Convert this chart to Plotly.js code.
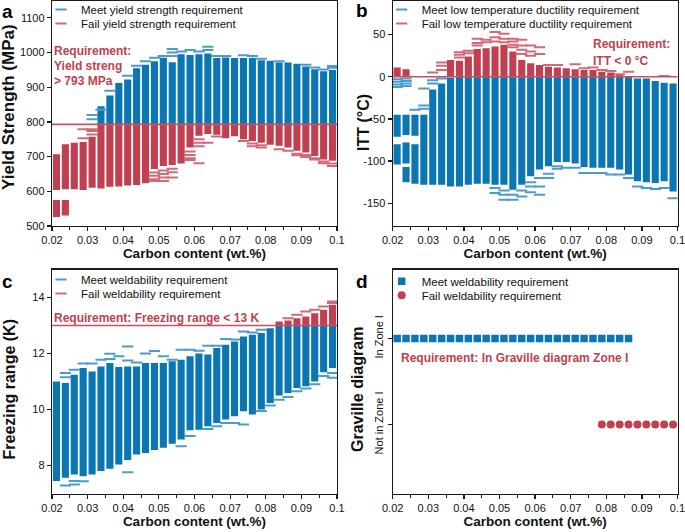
<!DOCTYPE html>
<html><head><meta charset="utf-8">
<script src="https://cdn.plot.ly/plotly-3.0.1.min.js"></script>
<style>html,body{margin:0;padding:0;background:#fff}#chart{width:685px;height:532px}</style>
</head><body><div id="chart"></div>
<script>
// ---------- data ----------
const carbon = [0.02125,0.02375,0.02625,0.02875,0.03125,0.03375,0.03625,0.03875,0.04125,0.04375,0.04625,0.04875,0.05125,0.05375,0.05625,0.05875,0.06125,0.06375,0.06625,0.06875,0.07125,0.07375,0.07625,0.07875,0.08125,0.08375,0.08625,0.08875,0.09125,0.09375,0.09625,0.09875];

// (a) yield strength, MPa
const aReq = 793;
const aMeetLo = [null,null,null,null,null,793,793,793,793,793,793,793,793,793,793,793,793,793,793,793,793,793,793,793,793,793,793,793,793,793,793,793];
const aMeetHi = [null,null,null,null,null,845,876,912,922,955,965,975,985,972,995,993,995,997,984,986,984,984,984,978,976,971,971,968,960,952,946,950];
const aFailLo = [604,606,606,604,610,608,613,614,617,618,623,664,673,676,680,726,760,765,763,753,759,750,745,740,734,731,726,717,712,702,692,688];
const aFailHi = [707,736,740,742,757,793,793,793,793,793,793,793,793,793,793,793,793,793,793,793,793,793,793,793,793,793,793,793,793,793,793,793];
const aFailLo2 = [526,530,null,null,null,null,null,null,null,null,null,null,null,null,null,null,null,null,null,null,null,null,null,null,null,null,null,null,null,null,null,null];
const aFailHi2 = [575,575,null,null,null,null,null,null,null,null,null,null,null,null,null,null,null,null,null,null,null,null,null,null,null,null,null,null,null,null,null,null];
const aMeetDashCol = [4,4,5,6,8,9,10,11,12,13,13,13,14,15,16,17,17,18,19,21,22,23,25,28,29,30,31,31];
const aMeetDashVal = [820,808,835,890,933,962,975,985,990,1010,1000,990,1003,1007,1003,1017,1007,990,990,992,990,982,975,965,957,951,961,956];
const aFailDashCol = [3,3,4,4,4,11,11,11,11,12,12,12,12,13,13,13,15,15,15,15,16,16,16,16,17,18,21,22,22,23,23,25,26,27,27,28,28,29,29,30,30,31,31];
const aFailDashVal = [779,753,779,774,764,654,645,635,630,660,650,640,630,665,655,640,715,705,695,690,750,740,730,681,740,758,745,738,730,733,726,721,717,708,704,705,699,695,692,686,681,680,673];

// (b) ITT, °C
const bReq = 0;
const bMeetLo = [-104,-103,-127,-128,-128,-128,-130,-130,-128,-127,-127,-128,-128,-134,-128,-118,-110,-106,-101,-101,-103,-107,-108,-108,-108,-110,-116,-124,-125,-126,-124,-136];
const bMeetHi = [-80,-78,-80,-45,-15,-8,-1,0,0,0,0,0,0,0,0,0,0,0,0,0,0,0,0,0,0,0,0,-2,-2,-5,-7,-8];
const bMeetLo2 = [-71,-69,-70,null,null,null,null,null,null,null,null,null,null,null,null,null,null,null,null,null,null,null,null,null,null,null,null,null,null,null,null,null];
const bMeetHi2 = [-45,-45,-45,null,null,null,null,null,null,null,null,null,null,null,null,null,null,null,null,null,null,null,null,null,null,null,null,null,null,null,null,null];
const bMeetLo3 = [null,-125,null,null,null,null,null,null,null,null,null,null,null,null,null,null,null,null,null,null,null,null,null,null,null,null,null,null,null,null,null,null];
const bMeetHi3 = [null,-107,null,null,null,null,null,null,null,null,null,null,null,null,null,null,null,null,null,null,null,null,null,null,null,null,null,null,null,null,null,null];
const bFailLo = [0,0,null,null,null,null,0,0,0,0,0,0,0,0,0,0,0,0,0,0,0,0,0,0,0,0,null,null,null,null,null,null];
const bFailHi = [11,9,null,null,null,null,20,19,24,33,34,36,38,30,20,16,14,12,11,10,9,8,8,6,5,2,null,null,null,null,null,null];
const bMeetDashCol = [0,0,0,0,1,1,1,1,2,3,3,3,4,4,5,11,11,12,12,12,13,13,14,14,15,15,15,16,16,16,17,17,18,18,19,20,21,22,23,24,25,26,27,28,29,30,31];
const bMeetDashVal = [-3,-6,-9,-12,-2,-5,-8,-11,-39,-14,-34,-38,-4,-8,-2,-132,-138,-135,-140,-146,-140,-146,-135,-142,-125,-130,-137,-120,-130,-140,-115,-120,-106,-109,-108,-108,-114,-114,-114,-116,-116,-120,-130,-132,-133,-132,-144];
const bFailDashCol = [4,5,5,5,7,7,7,8,8,9,9,9,10,10,11,11,11,12,12,12,13,13,13,13,14,14,14,14,15,15,15,16,16,17,18,20,21,22,23,24,25,26,30];
const bFailDashVal = [5,17,13,8,29,26,23,31,28,45,40,37,44,41,53,47,42,51,45,41,45,42,38,35,44,37,32,27,37,30,25,35,27,14,14,15,10,11,8,7,3,6,1];

// (c) freezing range, K
const cReq = 13;
const cMeetLo = [7.45,7.56,7.68,7.62,7.68,7.80,7.88,8.04,8.20,8.39,8.45,8.55,8.63,8.78,8.93,9.26,9.28,9.40,9.52,9.64,9.76,9.94,9.82,10.00,10.23,10.50,10.59,10.77,10.83,11.00,11.33,11.48];
const cMeetHi = [11.00,10.95,11.24,11.48,11.36,11.54,11.66,11.52,11.54,11.54,11.66,11.66,11.66,11.72,11.78,11.90,12.00,11.96,12.20,12.31,12.43,12.61,12.67,12.73,12.90,13,13,13,13,13,13,13];
const cFailLo = [null,null,null,null,null,null,null,null,null,null,null,null,null,null,null,null,null,null,null,null,null,null,null,null,null,13,13,13,13,13,13,13];
const cFailHi = [null,null,null,null,null,null,null,null,null,null,null,null,null,null,null,null,null,null,null,null,null,null,null,null,null,13.14,13.18,13.26,13.32,13.44,13.56,13.74];
const cMeetDashCol = [1,1,1,2,2,2,3,3,4,5,6,6,7,8,8,8,9,10,11,12,13,14,14,15,15,16,17,17,18,18,19,19,20,20,21,21,22,23,23,24,25,26,27,28,29,30,31,31];
const cMeetDashVal = [11.30,11.15,7.29,11.42,7.32,7.45,11.64,7.44,11.64,11.78,11.99,11.80,11.90,12.25,11.75,7.76,11.68,12.00,12.09,11.90,11.78,12.13,8.69,12.13,9.05,12.10,12.28,9.30,12.28,9.40,12.52,9.52,12.50,9.52,12.79,9.46,12.75,12.85,9.95,10.14,10.35,10.45,10.65,10.75,10.90,11.20,11.30,11.13];
const cFailDashCol = [26,27,28,29,30,31,31];
const cFailDashVal = [13.26,13.38,13.50,13.56,13.68,13.86,13.80];

// (d) Graville diagram
const dZones = ['Not in Zone I','In Zone I'];
const dMeetCarbon = [0.02125,0.02375,0.02625,0.02875,0.03125,0.03375,0.03625,0.03875,0.04125,0.04375,0.04625,0.04875,0.05125,0.05375,0.05625,0.05875,0.06125,0.06375,0.06625,0.06875,0.07125,0.07375,0.07625,0.07875,0.08125,0.08375,0.08625];
const dMeetZone = ['In Zone I','In Zone I','In Zone I','In Zone I','In Zone I','In Zone I','In Zone I','In Zone I','In Zone I','In Zone I','In Zone I','In Zone I','In Zone I','In Zone I','In Zone I','In Zone I','In Zone I','In Zone I','In Zone I','In Zone I','In Zone I','In Zone I','In Zone I','In Zone I','In Zone I','In Zone I','In Zone I'];
const dFailCarbon = [0.07875,0.08125,0.08375,0.08625,0.08875,0.09125,0.09375,0.09625,0.09875];
const dFailZone = ['Not in Zone I','Not in Zone I','Not in Zone I','Not in Zone I','Not in Zone I','Not in Zone I','Not in Zone I','Not in Zone I','Not in Zone I'];

// ---------- styling ----------
const BLUE = '#0a77b2', RED = '#c03f50';
const BLUE_L = '#4c9ccb', RED_L = '#d06a78';
const FONT = 'Liberation Sans, Arial, sans-serif';
const W = 685, H = 532;
const px = v => v / W, py = v => 1 - v / H;
const BARW = 0.002;

function bars(lo, hi, color, xa, ya) {
  return {type: 'bar', x: carbon, base: lo, y: hi.map((h, i) => (h == null || lo[i] == null) ? null : h - lo[i]),
    width: BARW, marker: {color: color, line: {width: 0}}, xaxis: xa, yaxis: ya, showlegend: false, hoverinfo: 'skip'};
}
function dashes(cols, vals, color, name, xa, ya, lg) {
  return {type: 'scatter', mode: 'markers', x: cols.map(c => carbon[c]), y: vals, name: name,
    marker: {symbol: 'line-ew', size: 8, line: {width: 2, color: color}, color: color},
    xaxis: xa, yaxis: ya, legend: lg, showlegend: true, hoverinfo: 'skip'};
}

const traces = [
  bars(aMeetLo, aMeetHi, BLUE, 'x', 'y'),
  bars(aFailLo, aFailHi, RED, 'x', 'y'),
  bars(aFailLo2, aFailHi2, RED, 'x', 'y'),
  dashes(aMeetDashCol, aMeetDashVal, BLUE_L, 'Meet yield strength requirement', 'x', 'y', 'legend'),
  dashes(aFailDashCol, aFailDashVal, RED_L, 'Fail yield strength requirement', 'x', 'y', 'legend2'),

  bars(bMeetLo, bMeetHi, BLUE, 'x2', 'y2'),
  bars(bMeetLo2, bMeetHi2, BLUE, 'x2', 'y2'),
  bars(bMeetLo3, bMeetHi3, BLUE, 'x2', 'y2'),
  bars(bFailLo, bFailHi, RED, 'x2', 'y2'),
  dashes(bMeetDashCol, bMeetDashVal, BLUE_L, 'Meet low temperature ductility requirement', 'x2', 'y2', 'legend3'),
  dashes(bFailDashCol, bFailDashVal, RED_L, 'Fail low temperature ductility requirement', 'x2', 'y2', 'legend4'),

  bars(cMeetLo, cMeetHi, BLUE, 'x3', 'y3'),
  bars(cFailLo, cFailHi, RED, 'x3', 'y3'),
  dashes(cMeetDashCol, cMeetDashVal, BLUE_L, 'Meet weldability requirement', 'x3', 'y3', 'legend5'),
  dashes(cFailDashCol, cFailDashVal, RED_L, 'Fail weldability requirement', 'x3', 'y3', 'legend6'),

  {type: 'scatter', mode: 'markers', x: dMeetCarbon, y: dMeetZone, name: 'Meet weldability requirement',
   marker: {symbol: 'square', size: 7.5, color: BLUE}, xaxis: 'x4', yaxis: 'y4', legend: 'legend7', hoverinfo: 'skip'},
  {type: 'scatter', mode: 'markers', x: dFailCarbon, y: dFailZone, name: 'Fail weldability requirement',
   marker: {symbol: 'circle', size: 8, color: RED}, xaxis: 'x4', yaxis: 'y4', legend: 'legend8', hoverinfo: 'skip'}
];

const axBase = {showline: true, linecolor: '#1a1a1a', linewidth: 1.2, mirror: true, ticks: 'outside', ticklen: 4,
  tickwidth: 1.2, tickcolor: '#1a1a1a', showgrid: false, zeroline: false, ticklabeloverflow: 'allow',
  tickfont: {size: 11, color: '#111', family: FONT}};
function xax(dom, anchor) {
  return Object.assign({}, axBase, {domain: dom, anchor: anchor, range: [0.02, 0.1], tick0: 0.02, dtick: 0.01,
    minor: {dtick: 0.005, ticks: 'outside', ticklen: 3, tickcolor: '#1a1a1a', tickwidth: 1},
    title: {text: '<b>Carbon content (wt.%)</b>', font: {size: 13.5, color: '#111', family: FONT}, standoff: 3}});
}
function yax(dom, anchor, extra) {
  return Object.assign({}, axBase, {domain: dom, anchor: anchor}, extra);
}
const colL = [px(52), px(337)], colR = [px(392.7), px(677.5)];
const rowT = [py(226), py(0.5)], rowB = [py(493.5), py(269.5)];

const LEG_OFF = 15;   // px from legend top to its row centre
function leg(x, rowCentre) {
  return {bgcolor: 'rgba(0,0,0,0)', font: {size: 11.5, color: '#111', family: FONT}, xanchor: 'left', yanchor: 'top',
    x: px(x), y: py(rowCentre - LEG_OFF), itemclick: false};
}

function hline(yv, xr, yr) {
  return {type: 'line', xref: xr + ' domain', x0: 0, x1: 1, yref: yr, y0: yv, y1: yv, layer: 'above',
    line: {color: '#c8505f', width: 1.6}};
}
function note(text, x, y, size, color) {
  return {text: text, xref: 'paper', yref: 'paper', x: px(x), y: py(y), xanchor: 'left', yanchor: 'middle',
    showarrow: false, font: {size: size, color: color, family: FONT}, borderpad: 0};
}
function label(t, x, y) {
  return {text: '<b>' + t + '</b>', xref: 'paper', yref: 'paper', x: px(x), y: py(y), xanchor: 'center', yanchor: 'middle',
    showarrow: false, font: {size: 19, color: '#000', family: FONT}};
}
function ytitle(t, x, y, size) {
  return {text: '<b>' + t + '</b>', xref: 'paper', yref: 'paper', x: px(x), y: py(y), xanchor: 'center', yanchor: 'middle',
    textangle: -90, showarrow: false, font: {size: size, color: '#111', family: FONT}};
}

const layout = {
  width: W, height: H, margin: {l: 0, r: 0, t: 0, b: 0, autoexpand: false}, paper_bgcolor: '#fff', plot_bgcolor: '#fff',
  barmode: 'overlay', font: {family: FONT, color: '#111'},
  xaxis: xax(colL, 'y'), yaxis: yax(rowT, 'x', {range: [500, 1150], tickvals: [500,600,700,800,900,1000,1100]}),
  xaxis2: xax(colR, 'y2'), yaxis2: yax(rowT, 'x2', {range: [-177, 90.5], tickvals: [50,0,-50,-100,-150], ticktext: ['50','0','-50','-100','-150']}),
  xaxis3: xax(colL, 'y3'), yaxis3: yax(rowB, 'x3', {range: [7, 15], tickvals: [8,10,12,14]}),
  xaxis4: xax(colR, 'y4'), yaxis4: yax(rowB, 'x4', {type: 'category', categoryorder: 'array', categoryarray: dZones, range: [-0.8, 1.8], tickangle: -90}),
  legend: leg(41, 10), legend2: leg(41, 24),
  legend3: leg(381.7, 10), legend4: leg(381.7, 24),
  legend5: leg(41, 280), legend6: leg(41, 294),
  legend7: leg(381.7, 281.7), legend8: leg(381.7, 295.7),
  shapes: [hline(aReq, 'x', 'y'), hline(bReq, 'x2', 'y2'), hline(cReq, 'x3', 'y3')],
  annotations: [
    ytitle('Yield Strength (MPa)', 8.5, 107.5, 17),
    ytitle('ITT (°C)', 364, 123, 16),
    ytitle('Freezing range (K)', 8.5, 390, 16),
    ytitle('Graville diagram', 357.5, 389.5, 16),
    note('<b>Requirement:</b>', 52.5, 51.5, 12, RED),
    note('<b>Yield streng</b>', 52.5, 66, 12, RED),
    note('<b>&gt; 793 MPa</b>', 52.5, 81, 12, RED),
    note('<b>Requirement:</b>', 591.5, 44, 12, RED),
    note('<b>ITT &lt; 0 °C</b>', 591.5, 61, 12, RED),
    note('<b>Requirement: Freezing range &lt; 13 K</b>', 53, 317.5, 12, RED),
    note('<b>Requirement: In Graville diagram Zone I</b>', 400, 358, 12, RED),
    label('a', 7.5, 11.5), label('b', 362, 10.5), label('c', 8, 281.5), label('d', 362, 281.5)
  ]
};

Plotly.newPlot('chart', traces, layout, {staticPlot: true, displayModeBar: false});
</script></body></html>
